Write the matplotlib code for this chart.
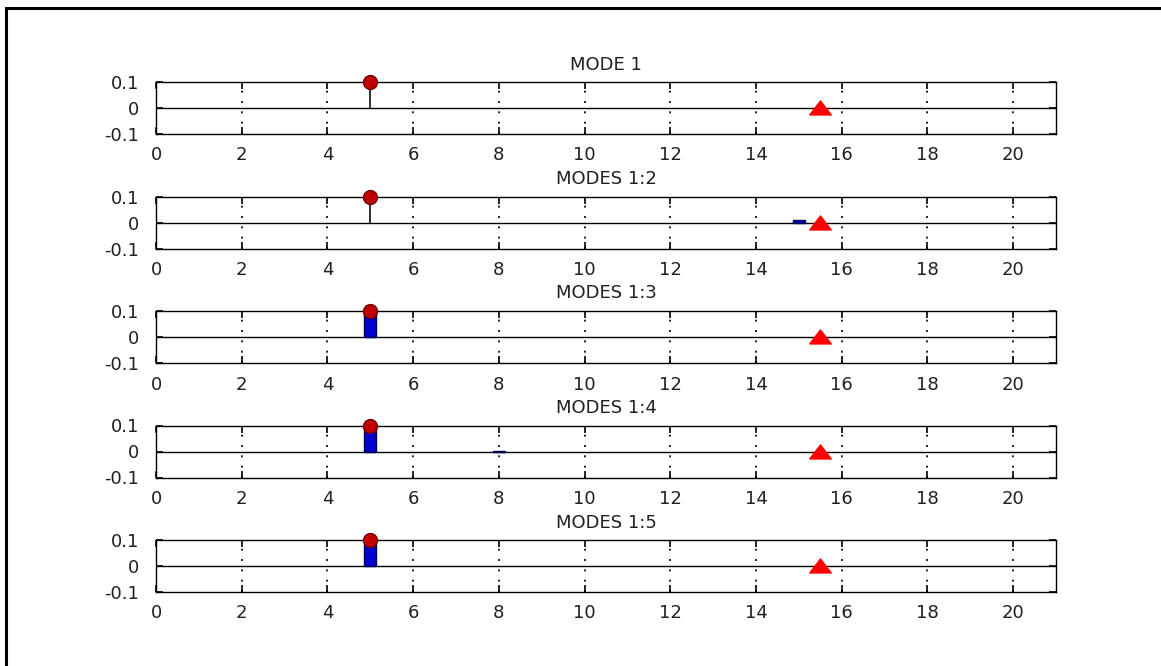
import matplotlib
matplotlib.use('Agg')
import matplotlib.pyplot as plt
from matplotlib.patches import Rectangle

# titles of the five panels
titles = ['MODE 1', 'MODES 1:2', 'MODES 1:3', 'MODES 1:4', 'MODES 1:5']

# reconstructed coefficients (bars) for each panel
bar_x = [[], [15], [5], [5, 8], [5]]
bar_h = [[], [0.008], [0.095], [0.095, 0.002], [0.095]]

# true spike (stem) and target position
stem_x = [5]
stem_y = [0.1]
target_x = [15.5]
target_y = [0]

xticks = [0, 2, 4, 6, 8, 10, 12, 14, 16, 18, 20]
yticks = [-0.1, 0, 0.1]
xlim = (0, 21)
ylim = (-0.1, 0.1)

def main():
    plt.rcParams['font.family'] = ['DejaVu Sans']

    fig = plt.figure(figsize=(11.61, 6.66), dpi=100)
    W, H = 1161.0, 666.0

    # outer frame
    fig.patches.append(Rectangle((5.5 / W, -0.1), 1.2, (666 - 7.5) / H + 0.1,
                                 transform=fig.transFigure, fill=False,
                                 edgecolor='black', linewidth=2.2))

    tri = [(-1, -0.6), (1, -0.6), (0, 0.7), (-1, -0.6)]

    for i in range(5):
        top = 82 + 114.5 * i
        ax = fig.add_axes([156 / W, (H - top - 52) / H, 900 / W, 52 / H])

        ax.axhline(0, color='black', linewidth=1.0, zorder=2)
        ax.vlines(stem_x, 0, stem_y, color='#202020', linewidth=1.3, zorder=2)
        if bar_x[i]:
            ax.bar(bar_x[i], bar_h[i], width=0.28, color='#0000d0',
                   edgecolor='#000050', linewidth=1.0, zorder=3)
        ax.plot(stem_x, stem_y, 'o', markersize=10, markerfacecolor='#c00000',
                markeredgecolor='#700000', markeredgewidth=1.0, zorder=5,
                clip_on=False)
        ax.plot(target_x, target_y, linestyle='none', marker=tri,
                markersize=15.5, color='#ff0000', zorder=5)

        ax.set_xlim(xlim)
        ax.set_ylim(ylim)
        ax.set_xticks(xticks)
        ax.set_yticks(yticks)
        ax.set_yticklabels(['-0.1', '0', '0.1'])
        ax.grid(True, axis='x', linestyle=(0, (1.2, 5)), color='black',
                linewidth=1.2)
        ax.tick_params(direction='in', length=5, width=1.2, top=True,
                       right=True, pad=9, labelsize=13, labelcolor='#202020')
        ax.tick_params(axis='y', pad=12)
        for s in ax.spines.values():
            s.set_linewidth(1.0)
        ax.set_title(titles[i], fontsize=13, pad=9, color='#202020')

    fig.savefig('out.png', dpi=100)

if __name__ == '__main__':
    main()
